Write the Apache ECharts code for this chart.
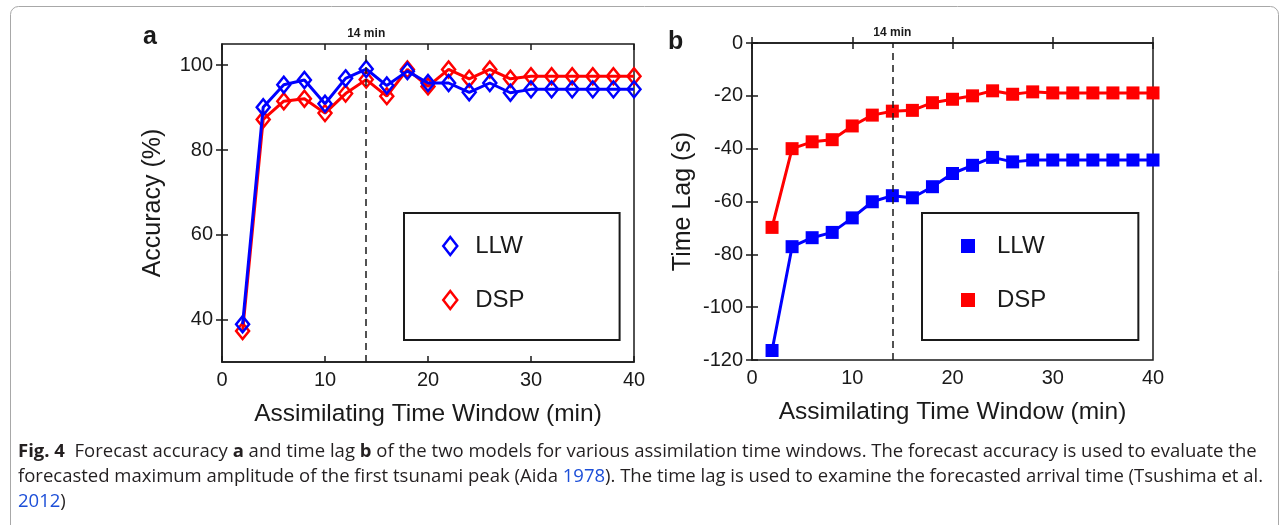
<!DOCTYPE html>
<html>
  <head>
    <meta http-equiv="Content-Type" content="text/html; charset=utf-8" />
    <title>Forecast accuracy and time lag</title>
    <script src="https://cdn.jsdelivr.net/npm/echarts@6/dist/echarts.min.js"></script>
    <style>
      html,
      body {
        margin: 0;
        padding: 0;
        background: #fff;
      }
      #chart {
        width: 1282px;
        height: 525px;
      }
    </style>
  </head>

  <body>
    <div id="chart"></div>

    <script type="text/javascript">
      "use strict"

      // 同化时间窗口 (min)
      const windowMin = [2, 4, 6, 8, 10, 12, 14, 16, 18, 20, 22, 24, 26, 28, 30, 32, 34, 36, 38, 40]

      // a: 预报精度 (%)
      const accLLW = [38.9, 90.1, 95.4, 96.5, 90.9, 96.9, 99.1, 95.2, 98.6, 95.8, 95.8, 93.6, 95.8, 93.5, 94.3, 94.3, 94.3, 94.3, 94.3, 94.3]
      const accDSP = [37.3, 87.2, 91.5, 92.1, 88.7, 93.3, 96.6, 92.7, 99.0, 95.0, 99.0, 96.8, 99.0, 96.8, 97.4, 97.4, 97.4, 97.4, 97.4, 97.4]

      // b: 时间滞后 (s)
      const lagLLW = [-116.4, -77.1, -73.7, -71.7, -66.2, -60.1, -57.8, -58.6, -54.4, -49.4, -46.3, -43.3, -45.0, -44.3, -44.3, -44.3, -44.3, -44.3, -44.3, -44.3]
      const lagDSP = [-69.8, -40.0, -37.4, -36.6, -31.4, -27.3, -25.8, -25.5, -22.6, -21.3, -20.0, -18.1, -19.4, -18.5, -18.9, -18.9, -18.9, -18.9, -18.9, -18.9]

      const accTicks = [40, 60, 80, 100]
      const markMin = 14

      const BLUE = "#0000ff"
      const RED = "#ff0000"
      const INK = "#1a1a1a"
      const AX_FONT = "Liberation Sans"
      const CAP_FONT = "Open Sans"
      const CAP_SIZE = 18.5

      function pairs(ys) {
        return windowMin.map((x, i) => [x, ys[i]])
      }

      const chart = echarts.init(document.getElementById("chart"), null, { renderer: "canvas" })

      // 公共坐标轴样式
      function xAxisOf(grid, pos) {
        const main = pos === "bottom"
        return {
          type: "value",
          gridIndex: grid,
          position: pos,
          min: 0,
          max: 40,
          interval: 10,
          splitLine: { show: false },
          axisLine: { show: main, lineStyle: { color: INK, width: 1.5 } },
          axisTick: { show: true, inside: true, length: 6, lineStyle: { color: INK, width: 1.5 } },
          axisLabel: { show: main, color: INK, fontFamily: AX_FONT, fontSize: 20, margin: 8 },
          name: main ? "Assimilating Time Window (min)" : "",
          nameLocation: "middle",
          nameGap: 40,
          nameTextStyle: { color: INK, fontFamily: AX_FONT, fontSize: 24.5 }
        }
      }

      function yAxisOf(grid, pos, extra) {
        const main = pos === "left"
        return Object.assign(
          {
            type: "value",
            gridIndex: grid,
            position: pos,
            splitLine: { show: false },
            axisLine: { show: main, lineStyle: { color: INK, width: 1.5 } },
            axisTick: { show: true, inside: true, length: 6, lineStyle: { color: INK, width: 1.5 } },
            axisLabel: { show: main, color: INK, fontFamily: AX_FONT, fontSize: 20, margin: 9 },
            nameLocation: "middle",
            nameGap: 56,
            nameTextStyle: { color: INK, fontFamily: AX_FONT, fontSize: 25 }
          },
          extra
        )
      }

      const option = {
        backgroundColor: "#fff",
        animation: false,
        grid: [
          { left: 222, top: 44, width: 412, height: 318, show: true, borderColor: INK, borderWidth: 1.5 },
          { left: 752, top: 43, width: 401, height: 317, show: true, borderColor: INK, borderWidth: 1.5 }
        ],
        xAxis: [xAxisOf(0, "bottom"), xAxisOf(0, "top"), xAxisOf(1, "bottom"), xAxisOf(1, "top")],
        yAxis: [
          yAxisOf(0, "left", {
            min: 30,
            max: 105,
            name: "Accuracy (%)",
            axisLabel: { show: true, color: INK, fontFamily: AX_FONT, fontSize: 20, margin: 9, customValues: accTicks },
            axisTick: { show: true, inside: true, length: 6, customValues: accTicks, lineStyle: { color: INK, width: 1.5 } }
          }),
          yAxisOf(0, "right", {
            min: 30,
            max: 105,
            axisLabel: { show: false },
            axisTick: { show: true, inside: true, length: 6, customValues: accTicks, lineStyle: { color: INK, width: 1.5 } }
          }),
          yAxisOf(1, "left", { min: -120, max: 0, interval: 20, name: "Time Lag (s)" }),
          yAxisOf(1, "right", { min: -120, max: 0, interval: 20 })
        ],
        legend: [
          {
            left: 404,
            top: 213,
            orient: "vertical",
            padding: [21, 95, 28, 38],
            itemGap: 30,
            itemWidth: 14,
            itemHeight: 18,
            borderColor: INK,
            borderWidth: 2,
            selectedMode: false,
            textStyle: { color: INK, fontFamily: AX_FONT, fontSize: 24, lineHeight: 24, padding: [0, 0, 0, 13] },
            data: [
              { name: "LLW", icon: "diamond", itemStyle: { color: "#fff", borderColor: BLUE, borderWidth: 2.5 } },
              { name: "DSP", icon: "diamond", itemStyle: { color: "#fff", borderColor: RED, borderWidth: 2.5 } }
            ]
          },
          {
            left: 922,
            top: 213,
            orient: "vertical",
            padding: [21, 92, 28, 39],
            itemGap: 30,
            itemWidth: 14,
            itemHeight: 14,
            borderColor: INK,
            borderWidth: 2,
            selectedMode: false,
            textStyle: { color: INK, fontFamily: AX_FONT, fontSize: 24, lineHeight: 24, padding: [0, 0, 0, 17] },
            data: [
              { name: "LLW", icon: "rect", itemStyle: { color: BLUE, borderWidth: 0 } },
              { name: "DSP", icon: "rect", itemStyle: { color: RED, borderWidth: 0 } }
            ]
          }
        ],
        series: [
          {
            name: "DSP",
            type: "line",
            xAxisIndex: 0,
            yAxisIndex: 0,
            data: pairs(accDSP),
            symbol: "diamond",
            symbolSize: [13, 16],
            lineStyle: { color: RED, width: 3 },
            itemStyle: { color: "rgba(255,255,255,0)", borderColor: RED, borderWidth: 2.5 },
            z: 2
          },
          {
            name: "LLW",
            type: "line",
            xAxisIndex: 0,
            yAxisIndex: 0,
            data: pairs(accLLW),
            symbol: "diamond",
            symbolSize: [13, 16],
            lineStyle: { color: BLUE, width: 3 },
            itemStyle: { color: "rgba(255,255,255,0)", borderColor: BLUE, borderWidth: 2.5 },
            z: 3,
            markLine: {
              silent: true,
              symbol: "none",
              lineStyle: { color: INK, width: 1.5, type: [7, 5] },
              label: {
                show: true,
                position: "end",
                formatter: "14 min",
                color: INK,
                fontFamily: AX_FONT,
                fontWeight: "bold",
                fontSize: 12,
                distance: 4
              },
              data: [{ xAxis: markMin }]
            }
          },
          {
            name: "DSP",
            type: "line",
            xAxisIndex: 2,
            yAxisIndex: 2,
            data: pairs(lagDSP),
            symbol: "rect",
            symbolSize: 13,
            lineStyle: { color: RED, width: 3 },
            itemStyle: { color: RED },
            z: 2
          },
          {
            name: "LLW",
            type: "line",
            xAxisIndex: 2,
            yAxisIndex: 2,
            data: pairs(lagLLW),
            symbol: "rect",
            symbolSize: 13,
            lineStyle: { color: BLUE, width: 3 },
            itemStyle: { color: BLUE },
            z: 3,
            markLine: {
              silent: true,
              symbol: "none",
              lineStyle: { color: INK, width: 1.5, type: [7, 5] },
              label: {
                show: true,
                position: "end",
                formatter: "14 min",
                color: INK,
                fontFamily: AX_FONT,
                fontWeight: "bold",
                fontSize: 12,
                distance: 4
              },
              data: [{ xAxis: markMin }]
            }
          }
        ],
        graphic: [
          // 外框
          {
            type: "rect",
            left: 8,
            top: 4,
            shape: { width: 1268, height: 540, r: 8 },
            style: { fill: "none", stroke: "#a8a8a8", lineWidth: 1 },
            silent: true
          },
          {
            type: "text",
            left: 143,
            top: 25,
            style: { text: "a", fill: INK, font: "bold 25px 'Liberation Sans'" }
          },
          {
            type: "text",
            left: 668,
            top: 30,
            style: { text: "b", fill: INK, font: "bold 25px 'Liberation Sans'" }
          },
          // 图注
          {
            type: "text",
            left: 18,
            top: 442,
            style: {
              text:
                "{fb|Fig. 4}  Forecast accuracy {b|a} and time lag {b|b} of the two models for various assimilation time windows. The forecast accuracy is used to evaluate the",
              fill: "#231f20",
              font: CAP_SIZE + "px '" + CAP_FONT + "'",
              rich: {
                fb: { fontWeight: "bold", fontFamily: CAP_FONT, fontSize: CAP_SIZE, fill: "#231f20" },
                b: { fontWeight: "bold", fontFamily: CAP_FONT, fontSize: CAP_SIZE, fill: "#231f20" }
              }
            }
          },
          {
            type: "text",
            left: 18,
            top: 467,
            style: {
              text:
                "forecasted maximum amplitude of the first tsunami peak (Aida {l|1978}). The time lag is used to examine the forecasted arrival time (Tsushima et al.",
              fill: "#231f20",
              font: CAP_SIZE + "px '" + CAP_FONT + "'",
              rich: { l: { fontFamily: CAP_FONT, fontSize: CAP_SIZE, fill: "#1d4fd8" } }
            }
          },
          {
            type: "text",
            left: 18,
            top: 492,
            style: {
              text: "{l|2012})",
              fill: "#231f20",
              font: CAP_SIZE + "px '" + CAP_FONT + "'",
              rich: { l: { fontFamily: CAP_FONT, fontSize: CAP_SIZE, fill: "#1d4fd8" } }
            }
          }
        ]
      }

      chart.setOption(option)

      window.addEventListener("resize", function () {
        chart.resize()
      })
    </script>
  </body>
</html>
